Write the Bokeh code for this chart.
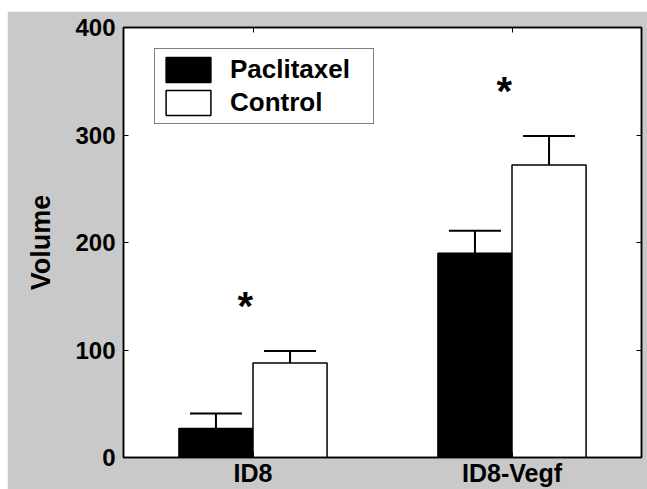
from bokeh.plotting import figure
from bokeh.models import (LinearAxis, FixedTicker, Whisker, ColumnDataSource,
                          Legend, LegendItem, Range1d)
from bokeh.core.properties import value
from bokeh.embed import file_html
from bokeh.resources import INLINE

categories = ["ID8", "ID8-Vegf"]
paclitaxel = [27, 190]
paclitaxel_err = [14, 21]
control = [88, 272]
control_err = [11, 27]
significant = [True, True]
y_ticks = [0, 100, 200, 300, 400]

FONT = "Liberation Sans"
GRAY = "#c9c9c9"

xs = [i + 1 for i in range(len(categories))]
off = 0.143
bw = 0.286

p = figure(width=640, height=478, margin=(11, 0, 0, 7),
           x_range=Range1d(0.5, len(categories) + 0.5), y_range=Range1d(0, 400),
           output_backend="svg", toolbar_location=None,
           min_border_left=116, min_border_top=16, min_border_right=6, min_border_bottom=31,
           background_fill_color="white", border_fill_color=GRAY,
           outline_line_color="black", outline_line_width=1.5)
p.xgrid.visible = False
p.ygrid.visible = False

src_p = ColumnDataSource(dict(x=[x - off for x in xs], top=paclitaxel,
                              upper=[v + e for v, e in zip(paclitaxel, paclitaxel_err)]))
src_c = ColumnDataSource(dict(x=[x + off for x in xs], top=control,
                              upper=[v + e for v, e in zip(control, control_err)]))

for src in (src_p, src_c):
    w = Whisker(source=src, base="x", lower="top", upper="upper",
                line_color="black", line_width=2, lower_head=None)
    w.upper_head.size = 52
    w.upper_head.line_width = 2
    w.upper_head.line_color = "black"
    p.add_layout(w)

r1 = p.vbar(x="x", top="top", width=bw, source=src_p, fill_color="black",
            line_color="black", line_width=1.5)
r2 = p.vbar(x="x", top="top", width=bw, source=src_c, fill_color="white",
            line_color="black", line_width=1.5)

# significance asterisks
sx, sy, st = [], [], []
for i, s in enumerate(significant):
    if s:
        sx.append(xs[i] - 0.03)
        sy.append(max(paclitaxel[i] + paclitaxel_err[i], control[i] + control_err[i]) + 47)
        st.append("*")
p.text(x=sx, y=sy, text=st, text_font=value(FONT), text_font_style="bold",
       text_font_size="40px", text_align="center", text_baseline="middle",
       y_offset=5, text_color="black")

# axes
ax = p.xaxis[0]
ax.ticker = FixedTicker(ticks=xs)
ax.major_label_overrides = {x: c for x, c in zip(xs, categories)}
ax.minor_tick_line_color = None
ax.major_tick_in = 5
ax.major_tick_out = 0
ax.major_label_standoff = 1
ax.axis_line_color = "black"
ax.axis_line_width = 1.5
ax.major_label_text_font = FONT
ax.major_label_text_font_style = "bold"
ax.major_label_text_font_size = "25px"
ax.major_label_text_color = "black"

ay = p.yaxis[0]
ay.ticker = FixedTicker(ticks=y_ticks)
ay.minor_tick_line_color = None
ay.major_tick_in = 5
ay.major_tick_out = 0
ay.major_label_standoff = 8
ay.axis_line_color = "black"
ay.axis_line_width = 1.5
ay.major_label_text_font = FONT
ay.major_label_text_font_style = "bold"
ay.major_label_text_font_size = "24px"
ay.major_label_text_color = "black"
ay.axis_label = "Volume"
ay.axis_label_text_font = FONT
ay.axis_label_text_font_style = "bold"
ay.axis_label_text_font_size = "27px"
ay.axis_label_text_color = "black"
ay.axis_label_standoff = 16

for ticks, side in ((y_ticks, "right"), (xs, "above")):
    a = LinearAxis(ticker=FixedTicker(ticks=ticks))
    a.major_label_overrides = {t: "" for t in ticks}
    a.major_label_text_font_size = "1px"
    a.major_label_standoff = 0
    a.major_tick_in = 5
    a.major_tick_out = 0
    a.minor_tick_line_color = None
    a.axis_line_color = "black"
    a.axis_line_width = 1.5
    p.add_layout(a, side)

legend = Legend(items=[LegendItem(label="Paclitaxel", renderers=[r1]),
                       LegendItem(label="Control", renderers=[r2])],
                location=(31, 333), padding=5, spacing=2,
                glyph_width=56, glyph_height=31, label_height=31,
                label_standoff=14, label_width=138,
                label_text_font=FONT, label_text_font_style="bold",
                label_text_font_size="26px", label_text_color="black",
                border_line_color="black", border_line_width=1.5,
                background_fill_color="white", background_fill_alpha=1.0)
p.add_layout(legend, "center")

open("out.html", "w").write(file_html(p, INLINE))
